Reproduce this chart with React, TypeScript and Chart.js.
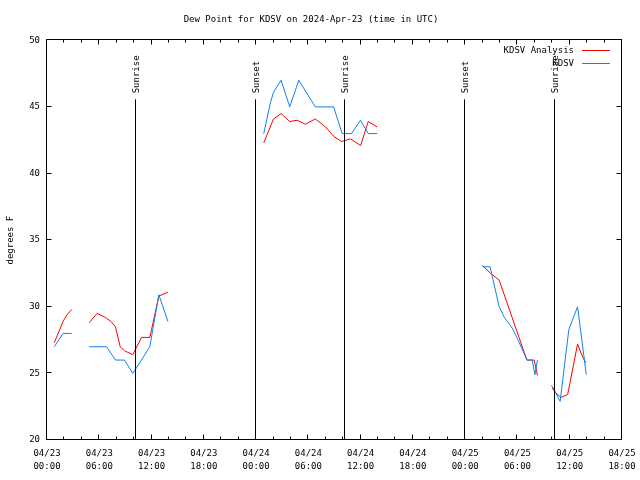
import { useEffect, useRef } from 'react';
import { Chart, registerables } from 'chart.js';

Chart.register(...registerables);

const FONT = '"DejaVu Sans Mono", monospace';
const TITLE = 'Dew Point for KDSV on 2024-Apr-23 (time in UTC)';
const Y_LABEL = 'degrees F';
const MONTH = '04';
const START_DAY = 23;
const X_MIN = 0;
const X_MAX = 66;
const Y_MIN = 20;
const Y_MAX = 50;

const analysisLabel = 'KDSV Analysis';
const analysisHours = [0.84, 1.84, 2.3, 2.84, 3.8, 4.84, 5.75, 6.7, 7.35, 7.86, 8.4, 8.89, 9.85, 10.85, 11.8, 12.84, 13.88, 18, 24.88, 26.0, 26.87, 27.86, 28.7, 29.66, 30.8, 31.96, 32.9, 33.8, 34.84, 36.0, 36.87, 37.9, 45, 49.98, 50.94, 51.9, 55.08, 55.92, 56.3, 57, 58.0, 58.3, 58.99, 59.76, 60.9, 61.5, 61.86];
const analysisValues = [27.3, 28.9, 29.4, 29.8, null, 28.8, 29.5, 29.2, 28.9, 28.5, 27.0, 26.7, 26.4, 27.7, 27.7, 30.8, 31.1, null, 42.3, 44.1, 44.5, 43.9, 44.0, 43.7, 44.1, 43.5, 42.8, 42.4, 42.6, 42.1, 43.9, 43.5, null, 33.1, 32.5, 32.0, 26.0, 26.0, 24.85, null, 23.9, 23.6, 23.2, 23.4, 27.2, 26.2, 25.8];

const obsLabel = 'KDSV';
const obsHours = [0.84, 1.84, 2.84, 3.8, 4.84, 5.84, 6.84, 7.86, 8.89, 9.85, 10.84, 11.8, 12.84, 13.88, 18, 24.88, 25.64, 26.0, 26.87, 27.86, 28.9, 30.8, 32.9, 33.88, 34.95, 35.98, 36.87, 37.9, 45, 49.98, 50.86, 51.9, 52.5, 53.4, 54.0, 55.1, 55.7, 56.0, 56.3, 57, 57.9, 58.2, 58.9, 59.9, 60.9, 61.9];
const obsValues = [27, 28, 28, null, 27, 27, 27, 26, 26, 25, 26, 27, 30.9, 28.9, null, 43, 45.3, 46.1, 47, 45, 47, 45, 45, 43, 43, 44, 43, 43, null, 33, 33, 30, 29.2, 28.4, 27.6, 26, 26, 24.9, 26, null, 24.1, 23.8, 22.9, 28.3, 30, 24.9];

const sunHours = [10.25, 23.94, 34.24, 47.93, 58.26];
const sunLabels = ['Sunrise', 'Sunset', 'Sunrise', 'Sunset', 'Sunrise'];

const pad2 = (n: number) => (n < 10 ? '0' + n : '' + n);

const framePlugin = {
  id: 'gnuFrame',
  afterDatasetsDraw(chart: any) {
    const { ctx, chartArea: a, scales } = chart;
    const x = scales.x;
    const y = scales.y;
    ctx.save();
    ctx.strokeStyle = '#000';
    ctx.fillStyle = '#000';
    ctx.lineWidth = 1;
    ctx.font = '9px ' + FONT;

    // sunrise / sunset markers
    sunHours.forEach((h, i) => {
      const px = Math.round(x.getPixelForValue(h)) - 0.5;
      ctx.beginPath();
      ctx.moveTo(px, a.top + 59);
      ctx.lineTo(px, a.bottom);
      ctx.stroke();
      ctx.save();
      ctx.translate(px + 1, a.top + 53);
      ctx.rotate(-Math.PI / 2);
      ctx.textAlign = 'left';
      ctx.textBaseline = 'middle';
      ctx.fillText(sunLabels[i], 0, 0);
      ctx.restore();
    });

    // border
    const L = Math.round(a.left) - 0.5;
    const R = Math.round(a.right) - 0.5;
    const T = Math.round(a.top) - 0.5;
    const B = Math.round(a.bottom) - 0.5;
    ctx.strokeRect(L, T, R - L, B - T);

    // inward ticks
    ctx.beginPath();
    x.ticks.forEach((t: any) => {
      const px = Math.round(x.getPixelForValue(t.value)) - 0.5;
      const len = t.value % 6 === 0 ? 5 : 3;
      ctx.moveTo(px, B);
      ctx.lineTo(px, B - len);
      ctx.moveTo(px, T);
      ctx.lineTo(px, T + len);
    });
    y.ticks.forEach((t: any) => {
      const py = Math.round(y.getPixelForValue(t.value)) - 0.5;
      ctx.moveTo(L, py);
      ctx.lineTo(L + 5, py);
      ctx.moveTo(R, py);
      ctx.lineTo(R - 5, py);
    });
    ctx.stroke();

    // legend (gnuplot style: text right-aligned, sample on the right)
    chart.data.datasets.forEach((ds: any, i: number) => {
      const ly = a.top + 10 + i * 13;
      ctx.textAlign = 'right';
      ctx.textBaseline = 'middle';
      ctx.fillStyle = '#000';
      ctx.fillText(ds.label, a.right - 48, ly);
      ctx.strokeStyle = ds.borderColor;
      ctx.beginPath();
      ctx.moveTo(a.right - 40, Math.round(ly) + 0.5);
      ctx.lineTo(a.right - 12, Math.round(ly) + 0.5);
      ctx.stroke();
    });
    ctx.restore();
  },
};

export default function App() {
  const ref = useRef<HTMLCanvasElement | null>(null);

  useEffect(() => {
    if (!ref.current) return;
    Chart.defaults.font.family = FONT;
    const chart = new Chart(ref.current, {
      type: 'line',
      data: {
        datasets: [
          {
            label: analysisLabel,
            data: analysisHours.map((h, i) => ({ x: h, y: analysisValues[i] })) as any,
            borderColor: '#ff0000',
            borderWidth: 1,
            pointRadius: 0,
            spanGaps: false,
            tension: 0,
            order: 1,
          },
          {
            label: obsLabel,
            data: obsHours.map((h, i) => ({ x: h, y: obsValues[i] })) as any,
            borderColor: 'rgb(16,128,240)',
            borderWidth: 1,
            pointRadius: 0,
            spanGaps: false,
            tension: 0,
            order: 0,
          },
        ],
      },
      options: {
        responsive: false,
        animation: false,
        events: [],
        layout: { padding: { left: 0, right: 18, top: 0, bottom: 0 } },
        plugins: {
          legend: { display: false },
          tooltip: { enabled: false },
          title: {
            display: true,
            text: TITLE,
            color: '#000',
            font: { family: FONT, size: 9, weight: 'normal', lineHeight: 1.2 },
            padding: { top: 14, bottom: 15.5 },
          },
        },
        scales: {
          x: {
            type: 'linear',
            min: X_MIN,
            max: X_MAX,
            grid: { display: false, drawTicks: false },
            border: { display: false },
            afterFit: (s: any) => {
              s.height = 40;
              s.paddingLeft = 0;
              s.paddingRight = 0;
            },
            ticks: {
              stepSize: 2,
              autoSkip: false,
              maxRotation: 0,
              minRotation: 0,
              padding: 8,
              color: '#000',
              font: { family: FONT, size: 9, lineHeight: 1.35 },
              callback: (value: any) => {
                const v = Number(value);
                if (v % 6 !== 0) return '';
                const day = START_DAY + Math.floor(v / 24);
                return [MONTH + '/' + day, pad2(v % 24) + ':00'];
              },
            },
          },
          y: {
            min: Y_MIN,
            max: Y_MAX,
            grid: { display: false, drawTicks: false },
            border: { display: false },
            afterFit: (s: any) => {
              s.width = 47;
              s.paddingTop = 0;
              s.paddingBottom = 0;
            },
            title: {
              display: true,
              text: Y_LABEL,
              color: '#000',
              font: { family: FONT, size: 9, lineHeight: 1.2 },
              padding: { top: 5, bottom: 0 },
            },
            ticks: {
              stepSize: 5,
              padding: 7,
              color: '#000',
              font: { family: FONT, size: 9 },
            },
          },
        },
      },
      plugins: [framePlugin],
    });
    return () => chart.destroy();
  }, []);

  return (
    <div style={{ position: 'fixed', left: 0, top: 0, width: 640, height: 480, background: '#fff' }}>
      <canvas ref={ref} width={640} height={480} style={{ display: 'block', width: 640, height: 480 }} />
    </div>
  );
}
